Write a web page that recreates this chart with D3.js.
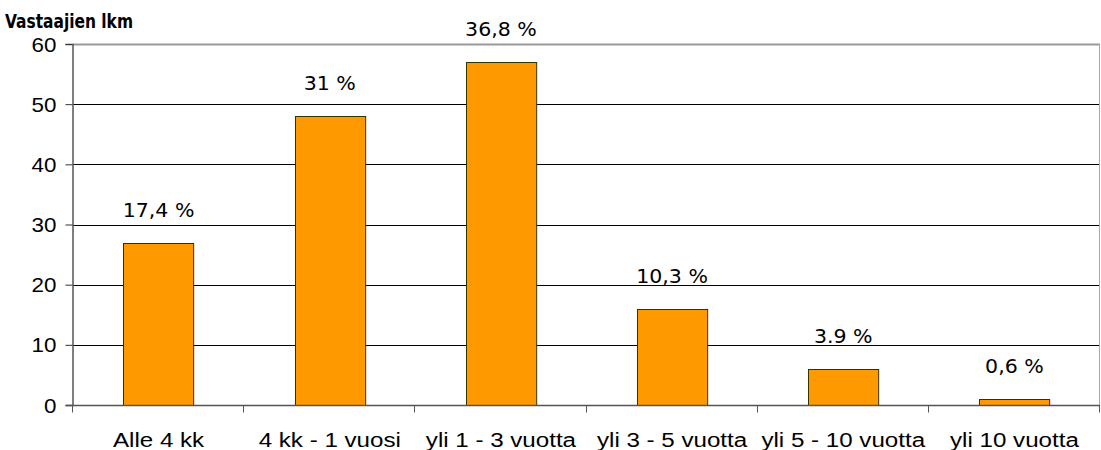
<!DOCTYPE html>
<html>
<head>
<meta charset="utf-8">
<script src="https://cdn.jsdelivr.net/npm/d3@7"></script>
<style>
  html, body { margin: 0; padding: 0; background: #fff; }
  svg { display: block; }
</style>
</head>
<body>
<svg id="chart" width="1101" height="450"></svg>
<script>
// Response counts by duration
const categories = ["Alle 4 kk", "4 kk - 1 vuosi", "yli 1 - 3 vuotta", "yli 3 - 5 vuotta", "yli 5 - 10 vuotta", "yli 10 vuotta"];
const counts = [27, 48, 57, 16, 6, 1];
const shareLabels = ["17,4 %", "31 %", "36,8 %", "10,3 %", "3.9 %", "0,6 %"];
const yTicks = [0, 10, 20, 30, 40, 50, 60];
const yTitle = "Vastaajien lkm";

const svg = d3.select("#chart");
const margin = { left: 73, right: 1, top: 44, bottom: 45 };
const W = 1101, H = 450;
const x0 = margin.left, x1 = W - margin.right;
const y0 = H - margin.bottom, y1 = margin.top;
const stretch = 1.12; // horizontal text scaling

const x = d3.scaleBand().domain(categories).range([x0, x1]).paddingInner(0.59).paddingOuter(0.295);
const xb = d3.scaleBand().domain(categories).range([x0, x1]);
const y = d3.scaleLinear().domain([0, 60]).range([y0, y1]);

// Gridlines
svg.append("g").selectAll("line").data(yTicks.filter(t => t > 0)).join("line")
  .attr("x1", x0).attr("x2", x1)
  .attr("y1", d => Math.round(y(d)) + 0.5).attr("y2", d => Math.round(y(d)) + 0.5)
  .attr("stroke", d => d === 60 ? "#999" : "#000")
  .attr("stroke-width", d => d === 60 ? 2 : 1);

// Right border
svg.append("line").attr("x1", x1 - 0.5).attr("x2", x1 - 0.5)
  .attr("y1", y1).attr("y2", y0).attr("stroke", "#aaa").attr("stroke-width", 1);

// Bars
svg.append("g").selectAll("rect").data(counts).join("rect")
  .attr("x", (d, i) => Math.round(x(categories[i])) + 0.5)
  .attr("y", d => Math.round(y(d)) + 0.5)
  .attr("width", x.bandwidth())
  .attr("height", d => Math.round(y0) - Math.round(y(d)))
  .attr("fill", "#FF9900")
  .attr("stroke", "#333300")
  .attr("stroke-width", 1);

// Y axis
const yAxis = svg.append("g").attr("transform", `translate(${x0 - 0.5},0)`)
  .call(d3.axisLeft(y).tickValues(yTicks).tickSize(7).tickPadding(9));
yAxis.select(".domain").attr("stroke", "#555").attr("stroke-width", 1.5);
yAxis.selectAll(".tick line").attr("stroke", "#333");
yAxis.selectAll("text")
  .attr("font-family", "Liberation Sans, Arial, sans-serif")
  .attr("font-size", 20).attr("fill", "#000").attr("dy", "0.35em")
  .attr("transform", function () {
    const tx = +d3.select(this).attr("x");
    return `translate(${tx},0) scale(${stretch},1) translate(${-tx},0)`;
  });

// X axis with tick marks at category boundaries
const xAxis = svg.append("g").attr("transform", `translate(0,${y0 + 0.5})`);
xAxis.append("line").attr("x1", x0 - 7).attr("x2", x1).attr("stroke", "#555").attr("stroke-width", 1.5);
const bounds = categories.map(c => xb(c)).concat([x1]);
xAxis.selectAll("line.tk").data(bounds).join("line").attr("class", "tk")
  .attr("x1", d => Math.round(d) - 0.5).attr("x2", d => Math.round(d) - 0.5)
  .attr("y1", 0).attr("y2", 7).attr("stroke", "#555").attr("stroke-width", 1);
xAxis.selectAll("text").data(categories).join("text")
  .attr("transform", d => `translate(${xb(d) + xb.bandwidth() / 2},41) scale(1.15,1)`)
  .attr("text-anchor", "middle")
  .attr("font-family", "Liberation Sans, Arial, sans-serif")
  .attr("font-size", 21).attr("fill", "#000")
  .text(d => d);

// Value labels
svg.append("g").selectAll("text").data(counts).join("text")
  .attr("transform", (d, i) => `translate(${x(categories[i]) + x.bandwidth() / 2},${y(d) - 26}) scale(1.08,1)`)
  .attr("text-anchor", "middle")
  .attr("font-family", "DejaVu Sans, Verdana, sans-serif")
  .attr("font-size", 19).attr("fill", "#000")
  .text((d, i) => shareLabels[i]);

// Axis title
svg.append("text").attr("x", 5).attr("y", 28)
  .attr("font-family", "DejaVu Sans Condensed, DejaVu Sans, sans-serif")
  .attr("font-weight", "bold").attr("font-stretch", "condensed")
  .attr("font-size", 20).attr("fill", "#000")
  .attr("textLength", 128).attr("lengthAdjust", "spacingAndGlyphs")
  .text(yTitle);
</script>
</body>
</html>
